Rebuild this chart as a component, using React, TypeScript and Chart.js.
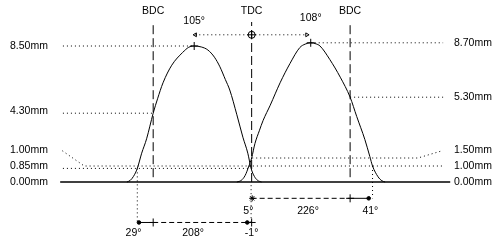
import React, { useEffect, useRef } from "react";
import { Chart, registerables } from "chart.js";

Chart.register(...registerables);

// ---- data (crank degrees relative to TDC, valve lift in mm) ----
const exhaustDeg = [-228, -222, -216, -209, -201, -192, -180, -172, -162, -146, -126, -115, -105, -92, -80, -68, -58, -48, -40, -27, -16, -7, -1, 5, 11, 18];
const exhaustLift = [0, 0.1, 0.35, 0.85, 1.8, 2.7, 4.3, 5.2, 6.2, 7.3, 8.1, 8.42, 8.5, 8.44, 8.25, 7.8, 7.2, 6.4, 5.75, 4.2, 2.8, 1.8, 0.85, 0.35, 0.1, 0];
const intakeDeg = [-27, -19, -12, -5, 0, 6, 14, 21, 34, 52, 70, 88, 98, 108, 118, 125, 143, 162, 180, 192, 207, 216, 221, 231, 238, 244];
const intakeLift = [0, 0.1, 0.4, 1.0, 1.5, 2.4, 3.2, 3.85, 4.8, 6.2, 7.4, 8.4, 8.62, 8.7, 8.63, 8.5, 7.65, 6.55, 5.3, 4.1, 2.65, 1.6, 1.0, 0.33, 0.08, 0];

const deadCentreNames = ["BDC", "TDC", "BDC"];
const deadCentreDeg = [-180, 0, 180];

const exhaustLiftValues = [8.5, 4.3, 1.0, 0.85, 0];
const exhaustLiftLabels = ["8.50mm", "4.30mm", "1.00mm", "0.85mm", "0.00mm"];
const intakeLiftValues = [8.7, 5.3, 1.5, 1.0, 0];
const intakeLiftLabels = ["8.70mm", "5.30mm", "1.50mm", "1.00mm", "0.00mm"];

const peakDeg = [-105, 108];
const peakLift = [8.5, 8.7];
const peakLabels = ["105°", "108°"];

const exhaustEventDeg = [-209, -1]; // opens 29° BBDC, closes -1° ATDC
const exhaustEventLabels = ["29°", "208°", "-1°"];
const intakeEventDeg = [-5, 221]; // opens 5° BTDC, closes 41° ABDC
const intakeEventLabels = ["5°", "226°", "41°"];

type P = { x: number; y: number };
const pts = (xs: number[], ys: number[]): P[] => xs.map((x, i) => ({ x, y: ys[i] }));

const BLACK = "#000000";
const DOT = [1, 3];
const DASH = [9, 4];

function line(data: P[], opts: any = {}) {
  return {
    data,
    showLine: true,
    borderColor: BLACK,
    backgroundColor: BLACK,
    borderWidth: 1,
    pointRadius: 0,
    fill: false,
    ...opts,
  };
}

function marks(data: P[], opts: any = {}) {
  return {
    data,
    showLine: false,
    borderColor: BLACK,
    backgroundColor: BLACK,
    borderWidth: 1,
    pointRadius: 3,
    ...opts,
  };
}

export default function App() {
  const ref = useRef<HTMLCanvasElement | null>(null);

  useEffect(() => {
    if (!ref.current) return;
    const leftX = -345;
    const rightX = 350;
    const dimExhaustY = -2.53;
    const dimIntakeY = -1.02;
    const topDimY = 9.2;

    const datasets: any[] = [
      // lift curves
      line(pts(exhaustDeg, exhaustLift), { cubicInterpolationMode: "monotone" }),
      line(pts(intakeDeg, intakeLift), { cubicInterpolationMode: "monotone" }),
      // base line
      line([{ x: -350, y: 0 }, { x: 363, y: 0 }], { borderWidth: 1.6 }),
      // dead centre lines
      ...deadCentreDeg.map((d, i) =>
        line([{ x: d, y: i === 1 ? 0 : 0.3 }, { x: d, y: 10 }], { borderDash: DASH })
      ),
      // exhaust (left) leaders
      line([{ x: leftX, y: exhaustLiftValues[0] }, { x: peakDeg[0], y: exhaustLiftValues[0] }], { borderDash: DOT }),
      line([{ x: leftX, y: exhaustLiftValues[1] }, { x: -180, y: exhaustLiftValues[1] }], { borderDash: DOT }),
      line([{ x: leftX - 1, y: 1.95 }, { x: -306, y: exhaustLiftValues[2] }, { x: -3, y: exhaustLiftValues[2] }], { borderDash: DOT }),
      line([{ x: leftX, y: exhaustLiftValues[3] }, { x: exhaustEventDeg[1], y: exhaustLiftValues[3] }], { borderDash: DOT }),
      // intake (right) leaders
      line([{ x: peakDeg[1], y: intakeLiftValues[0] }, { x: rightX, y: intakeLiftValues[0] }], { borderDash: DOT }),
      line([{ x: 180, y: intakeLiftValues[1] }, { x: rightX, y: intakeLiftValues[1] }], { borderDash: DOT }),
      line([{ x: 1, y: intakeLiftValues[2] }, { x: 304, y: intakeLiftValues[2] }, { x: rightX, y: 1.97 }], { borderDash: DOT }),
      line([{ x: intakeEventDeg[0], y: intakeLiftValues[3] }, { x: rightX, y: intakeLiftValues[3] }], { borderDash: DOT }),
      // vertical dotted projections
      line([{ x: exhaustEventDeg[0], y: exhaustLiftValues[3] }, { x: exhaustEventDeg[0], y: dimExhaustY }], { borderDash: DOT }),
      line([{ x: intakeEventDeg[1], y: intakeLiftValues[3] }, { x: intakeEventDeg[1], y: dimIntakeY }], { borderDash: DOT }),
      line([{ x: -1, y: -0.2 }, { x: -1, y: dimExhaustY }], { borderDash: DOT }),
      // top overlap dimension
      line([{ x: -103, y: topDimY }, { x: 101, y: topDimY }], { borderDash: DOT }),
      // exhaust duration dimension
      line([{ x: -206, y: dimExhaustY }, { x: -180, y: dimExhaustY }]),
      line([{ x: -180, y: dimExhaustY }, { x: 0, y: dimExhaustY }], { borderDash: [5, 3] }),
      // intake duration dimension
      line([{ x: 0, y: dimIntakeY }, { x: 180, y: dimIntakeY }], { borderDash: [5, 3] }),
      line([{ x: 180, y: dimIntakeY }, { x: 214, y: dimIntakeY }]),
      // markers
      marks(pts(peakDeg, peakLift), { pointStyle: "cross", pointRadius: 4 }),
      marks([{ x: -180, y: dimExhaustY }, { x: 0, y: dimExhaustY }, { x: 180, y: dimIntakeY }], { pointStyle: "cross", pointRadius: 4 }),
      marks([{ x: -206, y: dimExhaustY }, { x: -8, y: dimExhaustY }, { x: 214, y: dimIntakeY }], { pointStyle: "circle", pointRadius: 1.8 }),
      marks([{ x: 1, y: dimIntakeY }], { pointStyle: "star", pointRadius: 3 }),
      marks([{ x: 0, y: topDimY }], { pointStyle: "circle", pointRadius: 3.5, backgroundColor: "rgba(0,0,0,0)" }),
      marks([{ x: 0, y: topDimY }], { pointStyle: "cross", pointRadius: 4.5 }),
      marks([{ x: -103, y: topDimY }], { pointStyle: "triangle", rotation: -90, pointRadius: 2.2, backgroundColor: "#fff" }),
      marks([{ x: 101, y: topDimY }], { pointStyle: "triangle", rotation: 90, pointRadius: 2.2, backgroundColor: "#fff" }),
    ];

    const textPlugin = {
      id: "camText",
      afterDatasetsDraw(chart: any) {
        const { ctx, scales } = chart;
        const X = (v: number) => scales.x.getPixelForValue(v);
        const Y = (v: number) => scales.y.getPixelForValue(v);
        ctx.save();
        ctx.fillStyle = BLACK;
        ctx.font = "10.5px 'Liberation Sans', Arial, sans-serif";
        ctx.textBaseline = "middle";

        // dead centre names
        ctx.textAlign = "center";
        deadCentreNames.forEach((n, i) => ctx.fillText(n, X(deadCentreDeg[i]), Y(10.7)));
        // peak angles
        peakLabels.forEach((t, i) => ctx.fillText(t, X(peakDeg[i]), Y(peakLift[i] + 1.53)));

        // lift labels
        const leftAt = [8.5, 4.4, 1.97, 1.0, 0];
        const rightAt = [8.7, 5.3, 2.0, 1.02, 0];
        ctx.textAlign = "left";
        exhaustLiftLabels.forEach((t, i) => ctx.fillText(t, 10, Y(leftAt[i])));
        intakeLiftLabels.forEach((t, i) => ctx.fillText(t, 454, Y(rightAt[i])));

        // intake event labels (upper row)
        ctx.textAlign = "center";
        const rowI = Y(-1.82);
        ctx.fillText(intakeEventLabels[0], X(intakeEventDeg[0] - 1), rowI);
        ctx.fillText(intakeEventLabels[1], X(103), rowI);
        ctx.fillText(intakeEventLabels[2], X(intakeEventDeg[1] - 4), rowI);
        // exhaust event labels (lower row)
        const rowE = Y(-3.2);
        ctx.fillText(exhaustEventLabels[0], X(exhaustEventDeg[0] - 7), rowE);
        ctx.fillText(exhaustEventLabels[1], X(-107), rowE);
        ctx.fillText(exhaustEventLabels[2], X(exhaustEventDeg[1] + 1), rowE);
        ctx.restore();
      },
    };

    const chart = new Chart(ref.current, {
      type: "scatter",
      data: { datasets },
      options: {
        responsive: false,
        animation: false,
        devicePixelRatio: 1,
        events: [],
        layout: { padding: 0, autoPadding: false },
        plugins: { legend: { display: false }, tooltip: { enabled: false } },
        scales: {
          x: { type: "linear", min: -460, max: 454, display: false },
          y: { type: "linear", min: -3.625, max: 11.375, display: false },
        },
      },
      plugins: [textPlugin],
    } as any);
    return () => chart.destroy();
  }, []);

  return (
    <div style={{ position: "absolute", left: 0, top: 0, width: 500, height: 240, background: "#fff" }}>
      <canvas ref={ref} width={500} height={240} style={{ width: 500, height: 240, display: "block" }} />
    </div>
  );
}
